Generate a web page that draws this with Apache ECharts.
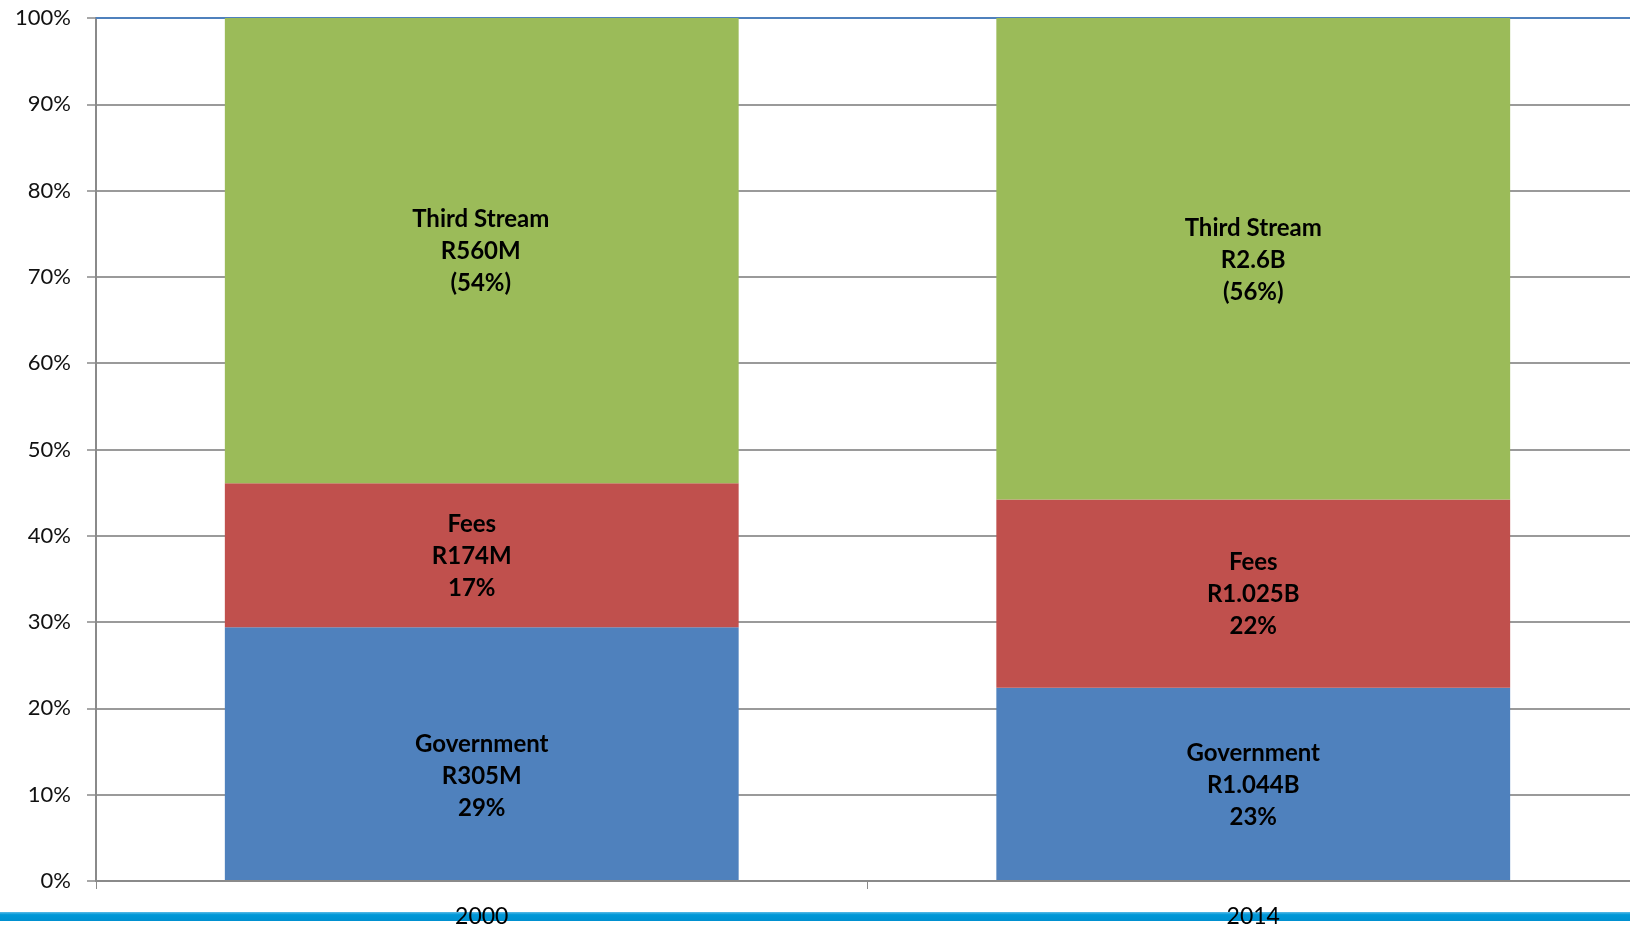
<!DOCTYPE html>
<html>
<head>
<meta charset="utf-8">
<script src="https://cdn.jsdelivr.net/npm/echarts@6/dist/echarts.min.js"></script>
<style>
  html, body { margin: 0; padding: 0; background: #ffffff; overflow: hidden; }
  #chart { width: 1640px; height: 926px; }
</style>
</head>
<body>
<div id="chart"></div>
<script>
// ---- Data ----
const categories = ['2000', '2014'];
const seriesNames = ['Government', 'Fees', 'Third Stream'];
const government = [29.4, 22.4];
const fees = [16.7, 21.8];
const thirdStream = [53.9, 55.8];
const governmentAmounts = ['R305M', 'R1.044B'];
const feesAmounts = ['R174M', 'R1.025B'];
const thirdStreamAmounts = ['R560M', 'R2.6B'];
const governmentPct = ['29%', '23%'];
const feesPct = ['17%', '22%'];
const thirdStreamPct = ['(54%)', '(56%)'];
const yTicks = [0, 10, 20, 30, 40, 50, 60, 70, 80, 90, 100];

// ---- Chart ----
const chart = echarts.init(document.getElementById('chart'), null, { renderer: 'canvas' });

const labelBase = {
  show: true,
  position: 'inside',
  color: '#000000',
  fontFamily: 'Lato',
  fontWeight: 'bold',
  fontSize: 24,
  lineHeight: 32,
  align: 'center'
};

function makeSeries(name, values, amounts, pcts, color, offsets) {
  return {
    name: name,
    type: 'bar',
    stack: 'total',
    barCategoryGap: '33.4%',
    itemStyle: { color: color },
    label: Object.assign({}, labelBase, {
      formatter: function (p) {
        return name + '\n' + amounts[p.dataIndex] + '\n' + pcts[p.dataIndex];
      }
    }),
    data: values.map(function (v, i) {
      return { value: v, label: { offset: offsets[i] } };
    })
  };
}

const option = {
  animation: false,
  backgroundColor: '#ffffff',
  grid: { left: 96, top: 18, width: 1543, bottom: 45, outerBoundsMode: 'none', containLabel: false },
  graphic: [
    {
      type: 'rect',
      z: 0,
      shape: { x: 0, y: 912, width: 1640, height: 9 },
      style: {
        fill: new echarts.graphic.LinearGradient(0, 0, 0, 1, [
          { offset: 0, color: '#5bbbe8' },
          { offset: 0.3, color: '#0098d8' },
          { offset: 1, color: '#0090d0' }
        ])
      }
    }
  ],
  xAxis: [
    {
      type: 'category',
      data: categories,
      position: 'bottom',
      axisLine: { show: true, lineStyle: { color: '#8a8a8a', width: 2 } },
      axisTick: { show: true, length: 8, lineStyle: { color: '#8a8a8a', width: 1 } },
      axisLabel: {
        margin: 24,
        color: '#000000',
        fontFamily: 'Lato',
        fontSize: 23
      },
      z: 5
    },
    {
      type: 'category',
      data: categories,
      position: 'top',
      axisLine: { show: true, lineStyle: { color: '#4f81bd', width: 2 } },
      axisTick: { show: false },
      axisLabel: { show: false }
    }
  ],
  yAxis: {
    type: 'value',
    min: 0,
    max: 100,
    interval: 10,
    axisLine: { show: true, lineStyle: { color: '#8a8a8a', width: 2 } },
    axisTick: { show: true, length: 9, lineStyle: { color: '#8a8a8a', width: 1.5 } },
    splitLine: { show: true, lineStyle: { color: '#9a9a9a', width: 2 } },
    axisLabel: {
      margin: 25,
      color: '#111111',
      fontFamily: 'Lato',
      fontSize: 22,
      formatter: function (v) { return yTicks.indexOf(v) >= 0 ? v + '%' : ''; }
    }
  },
  series: [
    makeSeries(seriesNames[0], government, governmentAmounts, governmentPct, '#4f81bd', [[0, 22], [0, 1]]),
    makeSeries(seriesNames[1], fees, feesAmounts, feesPct, '#c0504d', [[-10, 1], [0, 1]]),
    makeSeries(seriesNames[2], thirdStream, thirdStreamAmounts, thirdStreamPct, '#9bbb59', [[-1, 1], [0, 1]])
  ]
};

chart.setOption(option);
</script>
</body>
</html>
